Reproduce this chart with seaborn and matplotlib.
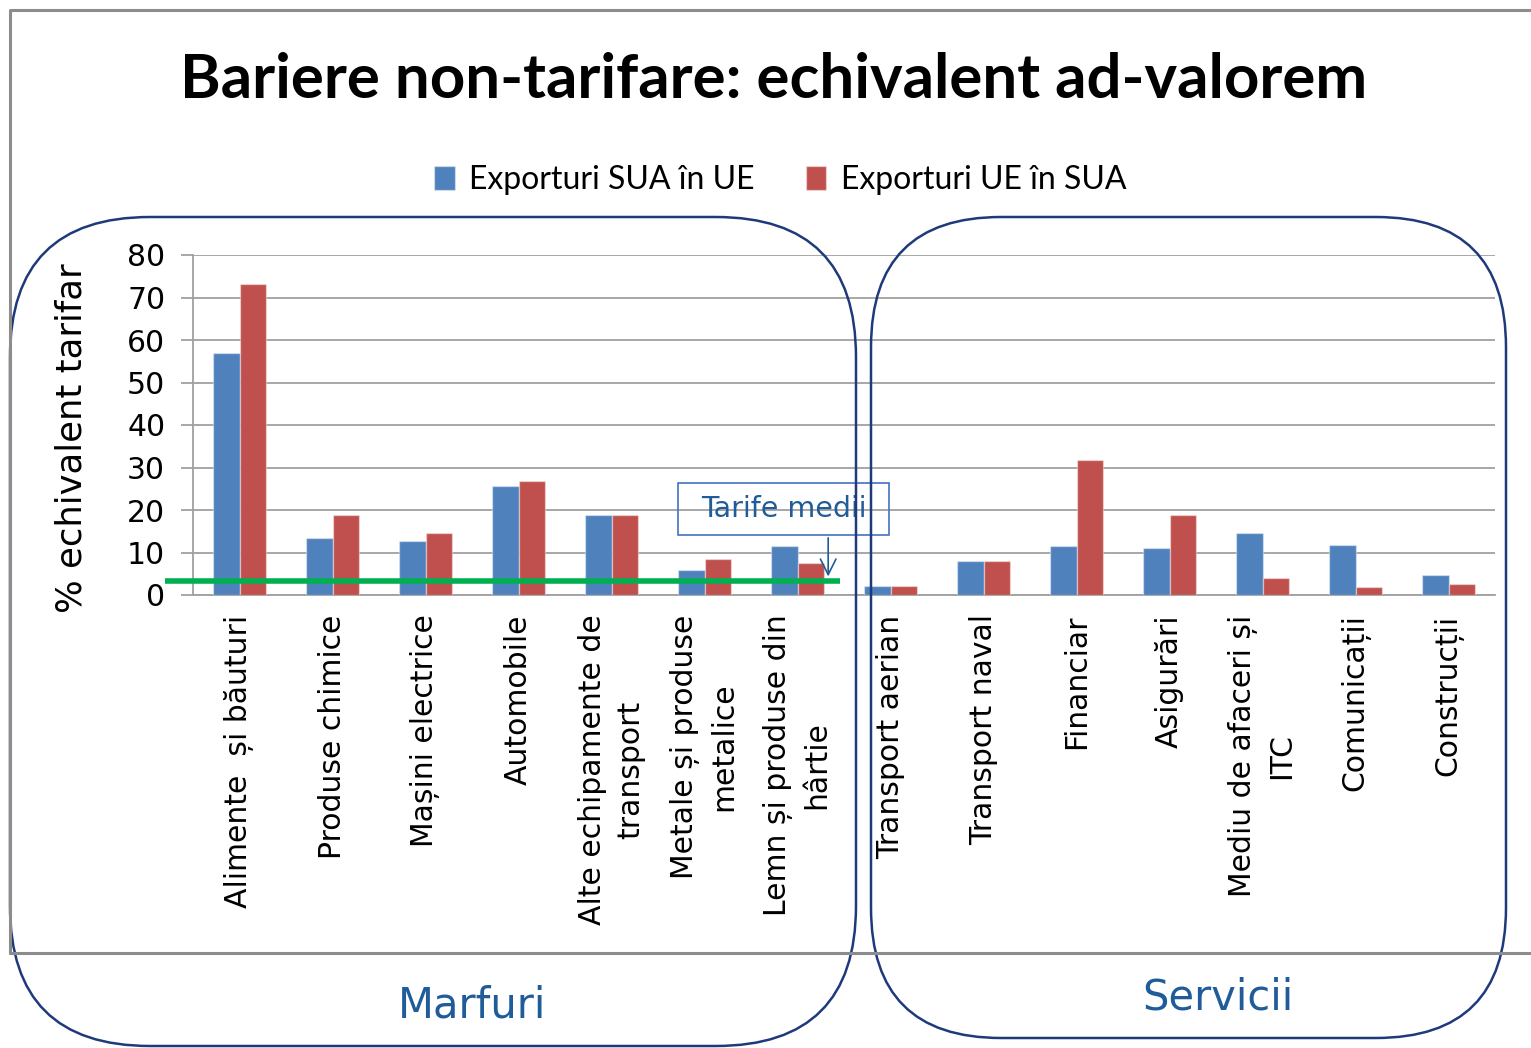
import pandas as pd
import matplotlib.pyplot as plt
import seaborn as sns
from matplotlib.patches import FancyBboxPatch, Rectangle

# Data (% ad-valorem equivalent)
categories = ['Alimente  și băuturi', 'Produse chimice', 'Mașini electrice', 'Automobile',
              'Alte echipamente de\ntransport', 'Metale și produse\nmetalice',
              'Lemn și produse din\nhârtie', 'Transport aerian', 'Transport naval',
              'Financiar', 'Asigurări', 'Mediu de afaceri și\nITC', 'Comunicații',
              'Construcții']
sua_ue = [57, 13.5, 12.6, 25.6, 18.9, 6.0, 11.5, 2.2, 8.1, 11.5, 11.0, 14.7, 11.8, 4.8]
ue_sua = [73.2, 18.9, 14.7, 26.9, 18.9, 8.5, 7.6, 2.2, 8.1, 31.8, 18.9, 3.9, 1.8, 2.7]
series = ['Exporturi SUA în UE', 'Exporturi UE în SUA']
avg_tariff = 3.4
yticks = [0, 10, 20, 30, 40, 50, 60, 70, 80]

colors = ['#4F81BD', '#C0504D']
navy = '#1F3A7A'
label_blue = '#1F5C99'

sns.set_style('white')
plt.rcParams['font.family'] = ['DejaVu Sans']
plt.rcParams['text.color'] = 'black'
plt.rcParams['xtick.color'] = 'black'
plt.rcParams['ytick.color'] = 'black'

df = pd.DataFrame({
    'cat': categories * 2,
    'val': sua_ue + ue_sua,
    'serie': [series[0]] * len(categories) + [series[1]] * len(categories),
})

fig = plt.figure(figsize=(15.31, 10.48), dpi=100)
ax = fig.add_axes([193 / 1531, 1 - 595 / 1048, 1302 / 1531, 340 / 1048])

sns.barplot(data=df, x='cat', y='val', hue='serie', palette=colors, saturation=1,
            width=0.57, edgecolor=(1, 1, 1, 0.4), linewidth=1, ax=ax, zorder=3)

handles, labels = ax.get_legend_handles_labels()
ax.get_legend().remove()

ax.set_ylim(0, 80)
ax.set_xlim(-0.5, len(categories) - 0.5)
ax.set_yticks(yticks)
ax.set_yticklabels([str(v) for v in yticks], fontsize=21.5)
ax.grid(axis='y', color='#A0A0A0', linewidth=1.3, zorder=0)
ax.set_axisbelow(True)
ax.tick_params(axis='y', length=9, width=1.3, color='#A0A0A0', labelcolor='black',
               pad=11, left=True)
ax.tick_params(axis='x', length=0, pad=14, labelcolor='black')
ax.set_xticks(range(len(categories)))
ax.set_xticklabels(categories, rotation=90, fontsize=21.5)
for t in ax.get_xticklabels():
    t.set_multialignment('center')
    t.set_linespacing(1.4)
for s in ['top', 'right']:
    ax.spines[s].set_visible(False)
for s in ['left', 'bottom']:
    ax.spines[s].set_color('#A0A0A0')
    ax.spines[s].set_linewidth(1.3)
ax.set_xlabel('')
ax.set_ylabel('')

# average tariff line and its callout
ax.plot([-0.8, 6.46], [avg_tariff, avg_tariff], color='#00B050', linewidth=4,
        clip_on=False, zorder=5, solid_capstyle='butt')
ax.add_patch(Rectangle((4.715, 14.1), 2.27, 12.25, fill=False, ec='#4472C4', lw=1.2,
                       clip_on=False, zorder=6))
ax.text(5.85, 20.2, 'Tarife medii', ha='center', va='center', fontsize=20.5,
        color=label_blue, zorder=6)
ax.annotate('', xy=(6.33, avg_tariff + 0.3), xytext=(6.33, 14.1),
            arrowprops=dict(arrowstyle='->', color=label_blue, lw=1.2, mutation_scale=28),
            zorder=6)

# titles, legend, axis label
fig.text(774 / 1531, 1 - 80 / 1048, 'Bariere non-tarifare: echivalent ad-valorem',
         ha='center', va='center', fontsize=44.5, fontweight='bold', family='Lato',
         color='black')
leg = fig.legend(handles, labels, loc='center', bbox_to_anchor=(780 / 1531, 1 - 180 / 1048),
                 ncol=2, frameon=False, prop={'family': 'Lato', 'size': 23},
                 handlelength=0.65, handleheight=0.75, handletextpad=0.45, columnspacing=1.6)
fig.text(72 / 1531, 1 - 438 / 1048, '% echivalent tarifar', rotation=90,
         ha='center', va='center', fontsize=25.5)

# overlay for frame and grouping boxes (pixel coordinates)
ov = fig.add_axes([0, 0, 1, 1], zorder=10)
ov.set_xlim(0, 1531)
ov.set_ylim(1048, 0)
ov.axis('off')
ov.patch.set_alpha(0)
ov.plot([10, 10, 1531], [953, 10, 10], color='#8C8C8C', lw=2.2)
ov.plot([10, 1531], [953, 953], color='#8C8C8C', lw=2.2)
ov.add_patch(FancyBboxPatch((10, 217), 846, 829, boxstyle='round,pad=0,rounding_size=140',
                            fill=False, ec=navy, lw=1.8))
ov.add_patch(FancyBboxPatch((871, 217), 635, 821, boxstyle='round,pad=0,rounding_size=130',
                            fill=False, ec=navy, lw=1.8))
ov.text(472, 1005, 'Marfuri', ha='center', va='center', fontsize=30, color=label_blue)
ov.text(1218, 997, 'Servicii', ha='center', va='center', fontsize=30, color=label_blue)

fig.savefig('out.png', dpi=100)
